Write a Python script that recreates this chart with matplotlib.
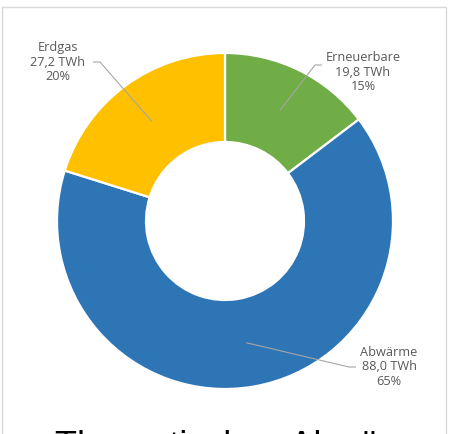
import numpy as np
import matplotlib.pyplot as plt
from matplotlib.patches import Rectangle

# ── Data ──────────────────────────────────────────────────────────────────────
names   = ["Erneuerbare", "Abwärme", "Erdgas"]
values  = [19.8, 88.0, 27.2]          # TWh
shares  = [15, 65, 20]                # % as printed
colors  = ["#70AD47", "#2E75B6", "#FFC000"]

# label layout (pixel coords, y from top): text centre, leader anchor
label_xy  = [(363, 72), (389, 367), (58, 62)]
anchor_xy = [(322, 65), (356, 367), (93, 62)]
tick_dx   = [-7, -7, 7]

W, H = 454, 434
CX, CY, R, RING = 225, 221, 168, 89
TXT = "#595959"

fig = plt.figure(figsize=(W / 100, H / 100), dpi=100)
fig.patch.set_facecolor("white")
ax = fig.add_axes([0, 0, 1, 1])

wedges, _ = ax.pie(values, colors=colors, startangle=90, counterclock=False,
                   radius=R, center=(CX, H - CY),
                   wedgeprops=dict(width=RING, edgecolor="white", linewidth=1.6))
ax.set_xlim(0, W)
ax.set_ylim(0, H)
ax.set_aspect("auto")
ax.axis("off")

# chart border
ax.add_patch(Rectangle((2, -20), 444, H - 7 + 20, fill=False,
                       edgecolor="#d9d9d9", lw=1.0, clip_on=False))

# labels with leader lines
r_mid = R - RING / 2
for w, name, v, s, (lx, ly), (axx, ayy), dx in zip(
        wedges, names, values, shares, label_xy, anchor_xy, tick_dx):
    mid = np.deg2rad((w.theta1 + w.theta2) / 2)
    ix, iy = CX + r_mid * np.cos(mid), (H - CY) + r_mid * np.sin(mid)
    ax.plot([axx, axx + dx, ix], [H - ayy, H - ayy, iy],
            color="#a6a6a6", lw=0.8, solid_capstyle="butt")
    ax.text(lx, H - ly, f"{name}\n{v:.1f} TWh\n{s}%".replace(".", ","),
            ha="center", va="center", color=TXT, fontsize=9.2,
            family="Open Sans", linespacing=1.12)

# caption below the chart (cut off by the image edge in the original too)
ax.text(55, H - 457, "Theoretisches Abwärmepotenzial", ha="left",
        va="baseline", fontsize=26, color="black", family="Liberation Sans",
        clip_on=False)

fig.savefig("out.png", dpi=100, facecolor="white")
